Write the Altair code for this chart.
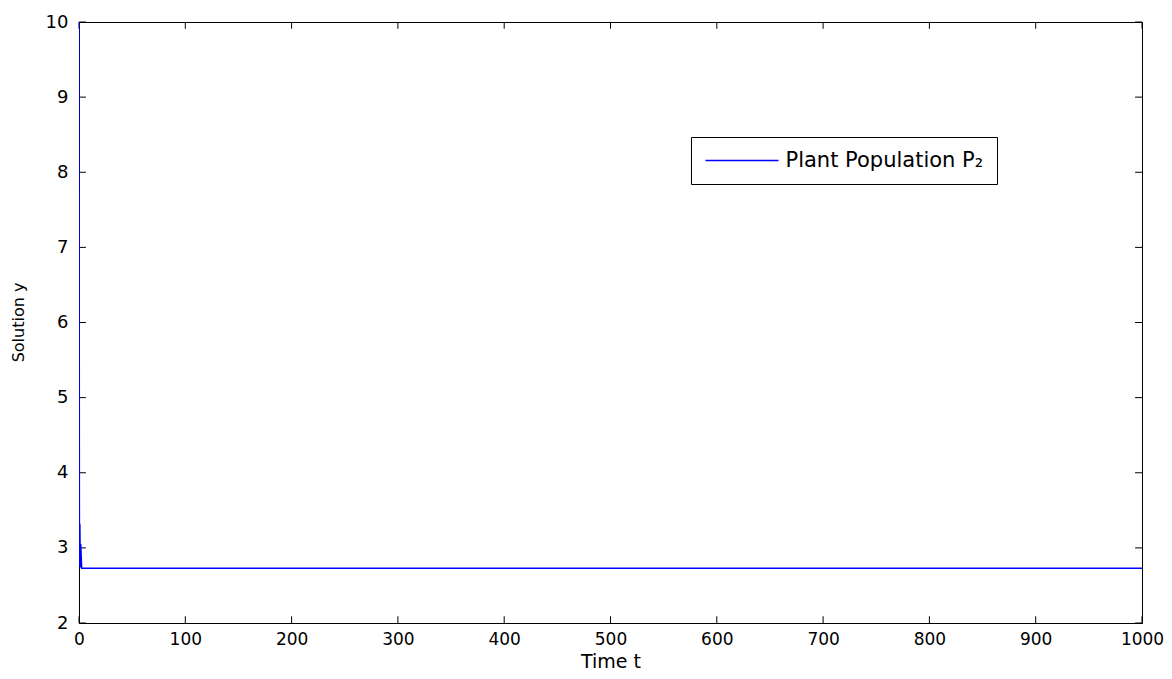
import altair as alt
import pandas as pd

# Data
t_vals = [0, 0.4, 0.8, 1.2, 1.6, 2.5, 1000]
y_vals = [10, 2.76, 3.32, 2.74, 3.05, 2.73, 2.73]
series_name = "Plant Population P\u2082"

x_ticks = [0, 100, 200, 300, 400, 500, 600, 700, 800, 900, 1000]
y_ticks = [2, 3, 4, 5, 6, 7, 8, 9, 10]

df = pd.DataFrame({"t": t_vals, "y": y_vals, "series": series_name})
xt = pd.DataFrame({"x": x_ticks})
yt = pd.DataFrame({"y": y_ticks})

FONT = "DejaVu Sans"
xs = alt.Scale(domain=[0, 1000], nice=False, zero=False)
ys = alt.Scale(domain=[2, 10], nice=False, zero=False)

line = alt.Chart(df).mark_line(strokeWidth=1.5, clip=True).encode(
    x=alt.X("t:Q", scale=xs, axis=alt.Axis(
        title="Time t", values=x_ticks, format="d", ticks=False, grid=False,
        labelFlush=False, labelOverlap=False,
        labelPadding=8, titleY=38, titleBaseline="middle", domainColor="black",
        labelFont=FONT, labelFontSize=17, titleFont=FONT, titleFontSize=19,
        titleFontWeight="normal", labelColor="black", titleColor="black")),
    y=alt.Y("y:Q", scale=ys, axis=alt.Axis(
        title="Solution y", values=y_ticks, format="d", ticks=False, grid=False,
        labelFlush=False, labelOverlap=False,
        labelPadding=11, titleX=-61, titleY=300, titleBaseline="middle",
        titleAlign="center", domainColor="black",
        labelFont=FONT, labelFontSize=18, titleFont=FONT, titleFontSize=16,
        titleFontWeight="normal", labelColor="black", titleColor="black")),
    color=alt.Color("series:N", scale=alt.Scale(range=["#0000ff"]), legend=alt.Legend(
        title=None, orient="none", legendX=612, legendY=115,
        strokeColor="black", fillColor="white", padding=13,
        symbolType="M-7.3,0H7.3", symbolSize=100, symbolStrokeWidth=1.5,
        symbolOffset=27.5,
        labelFont=FONT, labelFontSize=21, labelColor="black", labelOffset=33,
        labelLimit=400)),
)

tick_len_x = 0.09   # in y-data units
tick_len_y = 6.5    # in x-data units

bottom_ticks = alt.Chart(xt).mark_rule(color="black", strokeWidth=1).encode(
    x="x:Q", y=alt.datum(2), y2=alt.datum(2 + tick_len_x))
top_ticks = alt.Chart(xt).mark_rule(color="black", strokeWidth=1).encode(
    x="x:Q", y=alt.datum(10), y2=alt.datum(10 - tick_len_x))
left_ticks = alt.Chart(yt).mark_rule(color="black", strokeWidth=1).encode(
    y="y:Q", x=alt.datum(0), x2=alt.datum(tick_len_y))
right_ticks = alt.Chart(yt).mark_rule(color="black", strokeWidth=1).encode(
    y="y:Q", x=alt.datum(1000), x2=alt.datum(1000 - tick_len_y))

chart = alt.layer(bottom_ticks, top_ticks, left_ticks, right_ticks, line).properties(
    width=1063, height=601,
    autosize=alt.AutoSizeParams(type="none"),
    padding={"left": 71, "top": 14, "right": 22, "bottom": 56},
    background="white",
).configure_view(stroke="black", strokeWidth=1)

chart.save("out.html", embed_options={"renderer": "svg", "actions": False})
